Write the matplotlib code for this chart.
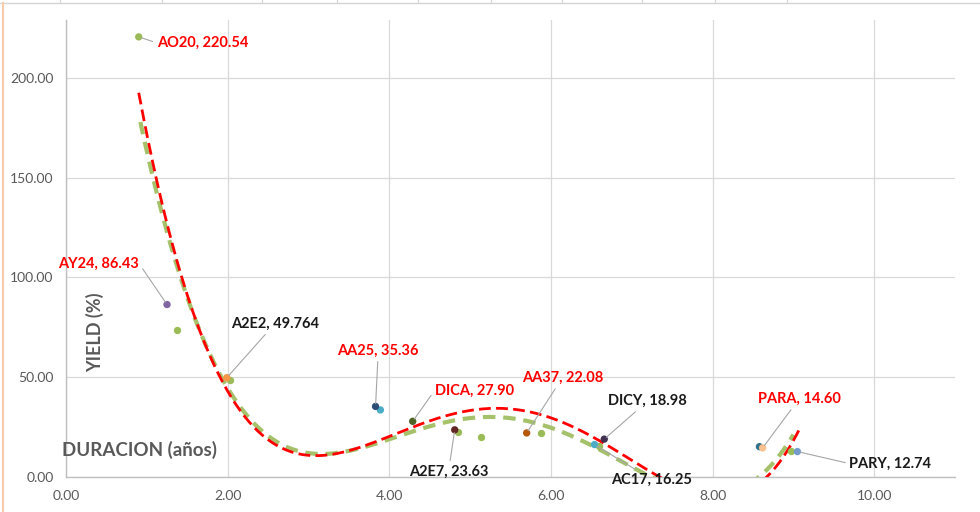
import matplotlib
matplotlib.use("Agg")
import matplotlib.pyplot as plt
import numpy as np
from matplotlib.lines import Line2D

plt.rcParams['font.family'] = ['Lato', 'DejaVu Sans']
plt.rcParams['lines.scale_dashes'] = False

# ---- data: labelled bonds (duration in years, yield %) ----
bonds = ["AO20", "AY24", "A2E2", "AA25", "DICA", "A2E7", "AA37", "DICY", "AC17", "PARA", "PARY"]
label_values = ["220.54", "86.43", "49.764", "35.36", "27.90", "23.63", "22.08", "18.98", "16.25", "14.60", "12.74"]
duration = [0.90, 1.25, 1.99, 3.83, 4.29, 4.81, 5.70, 6.66, 6.54, 8.62, 9.05]
yield_pct = [220.54, 86.43, 49.764, 35.36, 27.90, 23.63, 22.08, 18.98, 16.25, 14.60, 12.74]
point_colors = ["#9BBB59", "#8064A2", "#F79646", "#2C4D75", "#4F6228", "#632523",
                "#B65708", "#403151", "#4BACC6", "#FAC08F", "#729ACA"]
label_red = [True, True, False, True, True, False, True, False, False, True, False]

# extra unlabelled points of the coloured series
extra_x = [3.89, 8.58]
extra_y = [33.6, 15.2]
extra_colors = ["#4BACC6", "#31718A"]

# second (green) series
green_x = [1.37, 2.03, 4.85, 5.13, 5.88, 6.60, 8.97]
green_y = [73.7, 48.6, 22.5, 20.0, 21.8, 15.5, 12.8]

red_trend_x = [0.90, 1.32, 1.66, 1.99, 2.31, 2.68, 3.02, 3.30, 3.97, 4.38, 4.78, 5.20, 5.45, 6.02, 6.64, 7.18, 7.34, 7.70, 8.00, 8.30, 8.62, 9.07]
red_trend_y = [193, 114, 75, 44, 25, 13.5, 11, 11.5, 20, 27, 31.6, 34, 33.6, 28.6, 18.5, 4.5, 1, -8, -12, -9, 0, 23]
green_trend_x = [0.92, 1.32, 1.66, 1.99, 2.31, 2.90, 3.24, 3.97, 4.38, 4.78, 5.20, 5.45, 6.02, 6.64, 7.13, 7.50, 7.90, 8.20, 8.49, 8.95, 9.00]
green_trend_y = [178, 112, 74, 46, 26, 12.5, 12, 18.5, 26, 27.6, 28.6, 28.6, 24.6, 15, 3.5, -6, -11, -8, 0, 18.5, 20]

x_ticks = [0, 2, 4, 6, 8, 10]
y_ticks = [0, 50, 100, 150, 200]

# label offsets in pixels (dx, dy), horizontal alignment, arrow start on text
offsets = {
    "AO20": (18, -6, 'left', (0, 0.5)),
    "AY24": (-28, 41, 'right', (1, 0.5)),
    "A2E2": (4, 54, 'left', (0.5, 0.5)),
    "AA25": (-38, 56, 'left', (0.5, 0.5)),
    "DICA": (22, 31, 'left', (0, 0.5)),
    "A2E7": (-46, -42, 'left', (0.5, 0.5)),
    "AA37": (-5, 55, 'left', (0.5, 0.5)),
    "DICY": (4, 38, 'left', (0.5, 0.5)),
    "AC17": (17, -35, 'left', (0.5, 0.5)),
    "PARA": (-5, 49, 'left', (0.5, 0.5)),
    "PARY": (52, -12, 'left', (0, 0.5)),
}

fig = plt.figure(figsize=(9.8, 5.12), dpi=100)
ax = fig.add_axes([66 / 980, 35 / 512, 889 / 980, 457 / 512])
ax.set_xlim(0, 11)
ax.set_ylim(0, 229)
ax.set_xticks(x_ticks)
ax.set_yticks(y_ticks)
ax.set_xticklabels([f"{v:.2f}" for v in x_ticks])
ax.set_yticklabels([f"{v:.2f}" for v in y_ticks])
ax.tick_params(length=0, labelsize=10, colors="#595959", pad=9)
ax.grid(True, color="#D9D9D9", lw=0.9)
ax.set_axisbelow(True)
for s in ["top", "right"]:
    ax.spines[s].set_visible(False)
ax.spines["left"].set_color("#BFBFBF")
ax.spines["bottom"].set_color("#BFBFBF")
ax.spines["left"].set_linewidth(1.0)
ax.spines["bottom"].set_linewidth(1.0)

# trend lines (polynomial fits of the sampled values)
gp = np.polynomial.Polynomial.fit(green_trend_x, green_trend_y, 6)
gx = np.linspace(min(green_trend_x), max(green_trend_x), 300)
ax.plot(gx, gp(gx), color="#A5C26B", lw=3.0, linestyle=(0, (9.0, 5.6)), zorder=3)
rp = np.polynomial.Polynomial.fit(red_trend_x, red_trend_y, 6)
rx = np.linspace(min(red_trend_x), max(red_trend_x), 300)
ax.plot(rx, rp(rx), color="#FF0000", lw=2.0, linestyle=(0, (8.5, 3.8)), zorder=4)

# points
ax.scatter(green_x, green_y, s=28, color="#9BBB59", zorder=5, linewidths=0)
ax.scatter(extra_x, extra_y, s=28, c=extra_colors, zorder=5, linewidths=0)
ax.scatter(duration, yield_pct, s=28, c=point_colors, zorder=6, linewidths=0)

# data labels
for b, v, x, y, red in zip(bonds, label_values, duration, yield_pct, label_red):
    dx, dy, ha, rel = offsets[b]
    ax.annotate(f"{b}, {v}", xy=(x, y), xytext=(dx, dy), textcoords="offset pixels",
                ha=ha, va="center", fontsize=10.5, fontweight="bold",
                color="#FF0000" if red else "#1A1A1A", annotation_clip=False, zorder=7,
                arrowprops=dict(arrowstyle="-", color="#A6A6A6", lw=0.8, relpos=rel,
                                shrinkA=1, shrinkB=2))

# axis titles (inside the plot area, as in the reference)
fig.text(95 / 980, 1 - 332 / 512, "YIELD (%)", rotation=90, ha="center", va="center",
         fontsize=13, fontweight="bold", color="#595959")
fig.text(62 / 980, 1 - 450 / 512, "DURACION (años)", ha="left", va="center",
         fontsize=13.5, fontweight="bold", color="#595959")

# spreadsheet frame remnants
fig.add_artist(Line2D([0, 1], [1 - 3 / 512, 1 - 3 / 512], color="#D4D4D4", lw=1.0))
for px in [60, 162, 262, 337, 418, 491, 562, 642, 715, 787]:
    fig.add_artist(Line2D([px / 980, px / 980], [1, 1 - 3 / 512], color="#D4D4D4", lw=0.8))
fig.add_artist(Line2D([3 / 980, 3 / 980], [0, 1 - 3 / 512], color="#F8CBAD", lw=1.5))

fig.savefig("out.png", dpi=100)
